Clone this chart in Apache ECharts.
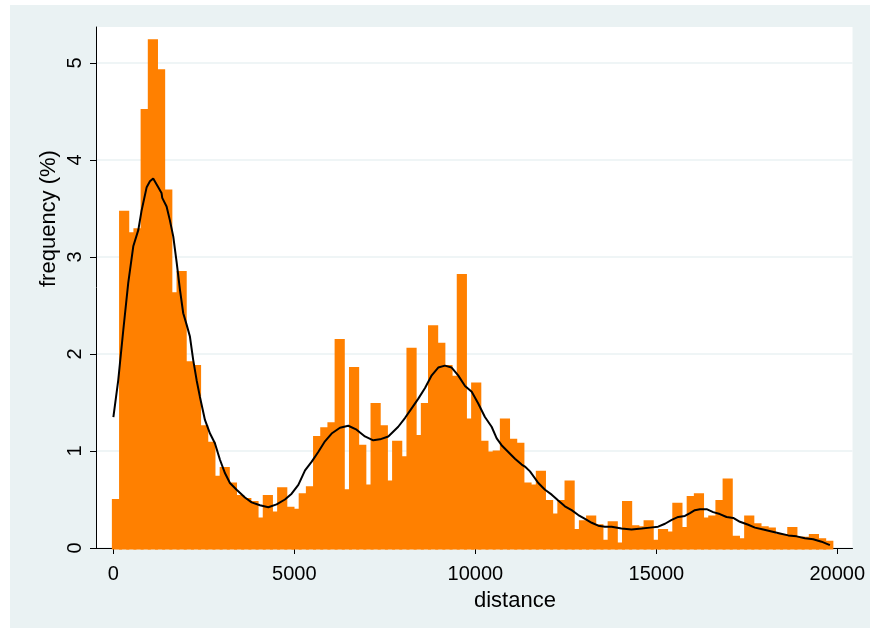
<!DOCTYPE html>
<html>
<head>
<meta charset="utf-8">
<script src="https://cdn.jsdelivr.net/npm/echarts@6/dist/echarts.min.js"></script>
<style>
html,body{margin:0;padding:0;background:#ffffff;}
#chart{width:875px;height:634px;}
</style>
</head>
<body>
<div id="chart"></div>
<script>
// ---- data ----
const binStart = 0;
const binWidth = 198.5;
const freq = [
  0.49, 3.46, 3.24, 3.28, 4.51, 5.23, 4.92, 3.68, 2.62, 2.84,
  1.91, 1.87, 1.25, 1.08, 0.73, 0.82, 0.66, 0.53, 0.50, 0.47,
  0.30, 0.53, 0.36, 0.61, 0.41, 0.39, 0.55, 0.62, 1.14, 1.23,
  1.28, 2.14, 0.59, 1.85, 1.05, 0.64, 1.48, 1.25, 0.68, 1.09,
  0.93, 2.05, 1.15, 1.48, 2.28, 2.10, 1.87, 1.76, 2.81, 1.32,
  1.69, 1.09, 0.98, 0.99, 1.32, 1.11, 1.07, 0.66, 0.64, 0.78,
  0.48, 0.34, 0.48, 0.68, 0.18, 0.27, 0.32, 0.23, 0.07, 0.26,
  0.04, 0.47, 0.22, 0.21, 0.27, 0.07, 0.18, 0.155, 0.45, 0.20,
  0.52, 0.55, 0.30, 0.32, 0.48, 0.70, 0.11, 0.085, 0.32, 0.24,
  0.21, 0.195, 0.13, 0.13, 0.20, 0.10, 0.10, 0.13, 0.085, 0.06
];
const densX = [
  0, 135, 275, 410, 550, 690, 780, 920, 1010, 1100, 1240, 1330, 1350, 1470, 1560, 1655, 1750, 1840, 1930, 2025,
  2115, 2205, 2300, 2390, 2530, 2670, 2805, 2945, 3085, 3220, 3405, 3635, 3820, 4050, 4280, 4510, 4740, 4925, 5110, 5295,
  5480, 5660, 5845, 6030, 6260, 6490, 6720, 6950, 7180, 7365, 7595, 7870, 8055, 8240, 8425, 8610, 8795, 8975, 9160, 9345,
  9525, 9715, 9900, 10080, 10265, 10450, 10590, 10725, 10910, 11095, 11280, 11370, 11510, 11740, 11925, 12110, 12290, 12475, 12660, 12845,
  13030, 13215, 13395, 13580, 13765, 14040, 14315, 14595, 14825, 15050, 15240, 15425, 15605, 15790, 15930, 16065, 16205, 16390, 16570, 16755,
  16940, 17125, 17310, 17540, 17725, 17955, 18185, 18415, 18645, 18875, 19105, 19335, 19565, 19795
];
const densY = [
  1.35, 1.73, 2.25, 2.73, 3.11, 3.28, 3.48, 3.72, 3.78, 3.81, 3.72, 3.66, 3.61, 3.52, 3.38, 3.21, 2.94, 2.66, 2.42, 2.30,
  2.18, 1.94, 1.73, 1.56, 1.32, 1.18, 1.08, 0.91, 0.77, 0.67, 0.60, 0.52, 0.47, 0.44, 0.42, 0.45, 0.50, 0.56, 0.65, 0.80,
  0.89, 0.99, 1.10, 1.18, 1.24, 1.26, 1.22, 1.15, 1.11, 1.12, 1.15, 1.25, 1.34, 1.44, 1.54, 1.65, 1.78, 1.86, 1.88, 1.86,
  1.78, 1.67, 1.61, 1.49, 1.35, 1.25, 1.13, 1.06, 0.99, 0.92, 0.86, 0.84, 0.79, 0.67, 0.60, 0.55, 0.49, 0.43, 0.39, 0.34,
  0.30, 0.26, 0.23, 0.22, 0.22, 0.20, 0.19, 0.20, 0.21, 0.22, 0.25, 0.29, 0.32, 0.33, 0.36, 0.39, 0.40, 0.40, 0.37, 0.35,
  0.32, 0.31, 0.27, 0.24, 0.21, 0.19, 0.17, 0.15, 0.13, 0.12, 0.10, 0.09, 0.065, 0.03
];
const xTicks = [0, 5000, 10000, 15000, 20000];
const yTicks = [0, 1, 2, 3, 4, 5];
const xTitle = 'distance';
const yTitle = 'frequency (%)';

// ---- chart ----
const FONT = '"Liberation Sans", Arial, sans-serif';
const BAR = '#ff8000';
const BG = '#eaf2f3';

const chart = echarts.init(document.getElementById('chart'), null, {renderer: 'canvas'});
const barData = freq.map((v, i) => [binStart + i * binWidth, v, binStart + (i + 1) * binWidth]);
const lineData = densX.map((x, i) => [x, densY[i]]);

chart.setOption({
  animation: false,
  backgroundColor: 'transparent',
  graphic: [
    {type: 'rect', z: -10, silent: true, shape: {x: 10, y: 5, width: 860, height: 623}, style: {fill: BG}},
    {type: 'text', x: 474, y: 601, z: 10, style: {text: xTitle, font: '22px ' + FONT, fill: '#000', textAlign: 'left', textVerticalAlign: 'middle'}},
    {type: 'text', x: 49, y: 287, rotation: Math.PI / 2, z: 10, style: {text: yTitle, font: '22px ' + FONT, fill: '#000', textAlign: 'left', textVerticalAlign: 'middle'}}
  ],
  grid: {left: 96, right: 22.5, top: 27, bottom: 86, show: true, backgroundColor: '#ffffff', borderWidth: 0, containLabel: false},
  xAxis: {
    type: 'value', min: -480, max: 20420,
    axisLine: {show: true, onZero: false, lineStyle: {color: '#000', width: 1}},
    axisTick: {show: true, length: 6, customValues: xTicks, lineStyle: {color: '#000'}},
    axisLabel: {customValues: xTicks, formatter: function (v) { return String(v); }, fontFamily: FONT, fontSize: 20, color: '#000', margin: 16},
    splitLine: {show: false}
  },
  yAxis: {
    type: 'value', min: 0, max: 5.371, interval: 1,
    axisLine: {show: true, onZero: false, lineStyle: {color: '#000', width: 1}},
    axisTick: {show: true, length: 6, customValues: yTicks, lineStyle: {color: '#000'}},
    axisLabel: {customValues: yTicks, formatter: function (v) { return String(v); }, rotate: 90, fontFamily: FONT, fontSize: 20, color: '#000', margin: 11},
    splitLine: {show: true, lineStyle: {color: BG, width: 1.5}}
  },
  series: [
    {
      type: 'custom',
      data: barData,
      encode: {x: [0, 2], y: 1},
      z: 2,
      renderItem: function (params, api) {
        const a = api.coord([api.value(0), api.value(1)]);
        const b = api.coord([api.value(2), 0]);
        return {
          type: 'rect',
          shape: {x: a[0], y: a[1], width: b[0] - a[0], height: b[1] - a[1]},
          style: {fill: BAR, stroke: BAR, lineWidth: 3}
        };
      }
    },
    {
      type: 'line',
      data: lineData,
      showSymbol: false,
      smooth: false,
      z: 5,
      lineStyle: {color: '#000', width: 2}
    }
  ]
});
</script>
</body>
</html>
